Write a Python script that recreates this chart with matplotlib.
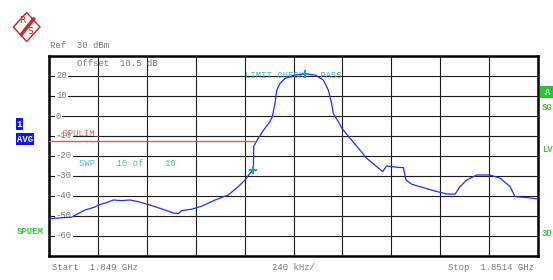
import matplotlib
matplotlib.use("Agg")
import matplotlib.pyplot as plt
from matplotlib.patches import Polygon, Rectangle
import numpy as np

# ---- data (frequency in MHz, level in dBm) ----
freq_mhz = [1849.000, 1849.029, 1849.111, 1849.128, 1849.177, 1849.226, 1849.242,
            1849.283, 1849.316, 1849.357, 1849.398, 1849.438, 1849.471, 1849.520,
            1849.569, 1849.610, 1849.635, 1849.651, 1849.700, 1849.749, 1849.815,
            1849.880, 1849.929, 1849.962, 1849.987, 1850.003, 1850.005, 1850.027,
            1850.060, 1850.085, 1850.096, 1850.109, 1850.118, 1850.134, 1850.158,
            1850.207, 1850.256, 1850.306, 1850.346, 1850.371, 1850.387, 1850.395,
            1850.420, 1850.437, 1850.477, 1850.526, 1850.559, 1850.608, 1850.638,
            1850.657, 1850.706, 1850.739, 1850.752, 1850.780, 1850.837, 1850.886,
            1850.952, 1850.993, 1851.017, 1851.050, 1851.099, 1851.164, 1851.214,
            1851.263, 1851.287, 1851.345, 1851.400]
level_dbm = [-51.6, -51.1, -50.6, -49.6, -47.0, -45.5, -44.5,
             -43.3, -42.0, -42.3, -42.0, -42.8, -43.8, -45.3,
             -47.0, -48.5, -48.8, -47.3, -46.6, -45.1, -42.0,
             -39.5, -35.3, -32.0, -28.6, -27.0, -15.0, -11.1,
             -6.1, -2.8, -0.3, 6.3, 13.0, 16.3, 18.8,
             20.5, 21.0, 20.5, 18.0, 13.0, 6.3, 1.3,
             -2.8, -6.1, -11.1, -17.0, -21.1, -25.3, -27.8,
             -25.0, -25.6, -25.8, -32.0, -34.1, -35.8, -37.3,
             -39.0, -39.1, -35.3, -32.0, -29.5, -29.5, -31.1,
             -35.3, -40.3, -40.8, -41.5]

start_mhz, stop_mhz = 1849.0, 1851.4
ref_level, y_bottom = 30, -70
ytick_vals = [20, 10, 0, -10, -20, -30, -40, -50, -60]
limit_level = -12.5
limit_end_mhz = 1850.005
marker_freqs = [1850.003, 1850.256]
marker_levels = [-27.0, 21.0]

W, H = 553, 280
fig = plt.figure(figsize=(W / 100, H / 100), dpi=100)
fig.patch.set_facecolor("white")

def fp(x, y):
    return (x / W, 1 - y / H)

ax = fig.add_axes([49 / W, 24 / H, 489 / W, 200 / H])
ax.set_xlim(start_mhz, stop_mhz)
ax.set_ylim(y_bottom, ref_level)
ax.set_xticks(np.linspace(start_mhz, stop_mhz, 11))
ax.set_yticks(np.arange(y_bottom, ref_level + 1, 10))
ax.tick_params(length=0, labelbottom=False, labelleft=False)
ax.grid(True, color="#1a1a1a", lw=0.8, zorder=1)
ax.set_axisbelow(True)
for s in ax.spines.values():
    s.set_linewidth(1.8)
    s.set_color("black")

mono = "Liberation Mono"
fs = 6.4
grey = "#7a7a7a"
cyan = "#3fbfbf"
green = "#3cc83c"

# y tick labels inside plot
for v in ytick_vals:
    y = 56 + (ref_level - v) * 2
    ax.text(*fp(56, y), f"{v}", transform=fig.transFigure, fontsize=fs,
            family=mono, color=grey, ha="left", va="center", zorder=2,
            bbox=dict(facecolor="white", edgecolor="none", pad=0.6))

# limit line
ax.plot([start_mhz, limit_end_mhz], [limit_level, limit_level], color="#f05050",
        lw=1.0, zorder=3)

# trace
ax.plot(freq_mhz, level_dbm, color="#1f2fff", lw=0.9, zorder=4)

# markers
ax.plot(marker_freqs, marker_levels, ls="none", marker="+", ms=6, mew=1.4,
        color="#20a0a0", zorder=5)

# inside texts
ax.text(*fp(77, 64), "Offset  10.5 dB", transform=fig.transFigure, fontsize=fs,
        family=mono, color=grey, ha="left", va="center", zorder=6)
ax.text(*fp(57, 133), "_SPULIM_", transform=fig.transFigure, fontsize=fs,
        family=mono, color="#f06060", ha="left", va="center", zorder=6)
ax.text(*fp(79, 164), "SWP    10 of    10", transform=fig.transFigure, fontsize=fs,
        family=mono, color=cyan, ha="left", va="center", zorder=6)
ax.text(*fp(245, 76), "LIMIT CHECK   PASS", transform=fig.transFigure, fontsize=fs,
        family=mono, color=cyan, ha="left", va="center", zorder=3.5)

# outside texts
fig.text(*fp(50, 46), "Ref  30 dBm", fontsize=fs, family=mono, color=grey,
         ha="left", va="center")
fig.text(*fp(52, 268), "Start  1.849 GHz", fontsize=fs, family=mono, color=grey,
         ha="left", va="center")
fig.text(*fp(294, 268), "240 kHz/", fontsize=fs, family=mono, color=grey,
         ha="center", va="center")
fig.text(*fp(534, 268), "Stop  1.8514 GHz", fontsize=fs, family=mono, color=grey,
         ha="right", va="center")
fig.text(*fp(17, 231), "SPUEM", fontsize=fs, family=mono, color=green,
         ha="left", va="center", weight="bold")
fig.text(*fp(542, 107), "SG", fontsize=fs, family=mono, color=green,
         ha="left", va="center", weight="bold")
fig.text(*fp(542, 149), "LV", fontsize=fs, family=mono, color=green,
         ha="left", va="center", weight="bold")
fig.text(*fp(542, 234), "3D", fontsize=fs, family=mono, color=green,
         ha="left", va="center", weight="bold")

# overlay for boxes / logo
ov = fig.add_axes([0, 0, 1, 1], zorder=10)
ov.set_xlim(0, W)
ov.set_ylim(H, 0)
ov.axis("off")
ov.patch.set_alpha(0)

ov.add_patch(Rectangle((16, 118), 7, 12, facecolor="#0a14ff", edgecolor="none"))
ov.text(19.5, 124.5, "1", fontsize=fs, family=mono, color="white", ha="center",
        va="center", weight="bold")
ov.add_patch(Rectangle((16, 133), 18, 12, facecolor="#0a14ff", edgecolor="none"))
ov.text(25, 139.5, "AVG", fontsize=fs, family=mono, color="white", ha="center",
        va="center", weight="bold")
ov.add_patch(Rectangle((540, 86), 13, 12, facecolor="#22cc22", edgecolor="none"))
ov.text(548, 92.5, "A", fontsize=fs, family=mono, color="white", ha="center",
        va="center", weight="bold")

# R&S logo
cx, cy = 26.7, 27.0
red = "#d42020"
ov.add_patch(Polygon([(cx, cy - 14.5), (cx + 13.3, cy), (cx, cy + 14.5), (cx - 13.3, cy)],
                     closed=True, facecolor="none", edgecolor=red, lw=1.0))
ov.plot([33.5, 20.0], [17.5, 34.5], color=red, lw=1.0)
ov.plot([35.0, 21.5], [19.0, 36.0], color=red, lw=1.0)
ov.plot([34.2, 20.7], [18.2, 35.2], color=red, lw=1.0)
ov.text(22.5, 20.5, "R", fontsize=6.5, color=red, ha="center", va="center",
        family="DejaVu Sans")
ov.text(30.5, 31.0, "S", fontsize=6.5, color=red, ha="center", va="center",
        family="DejaVu Sans")

fig.savefig("out.png", dpi=100)
